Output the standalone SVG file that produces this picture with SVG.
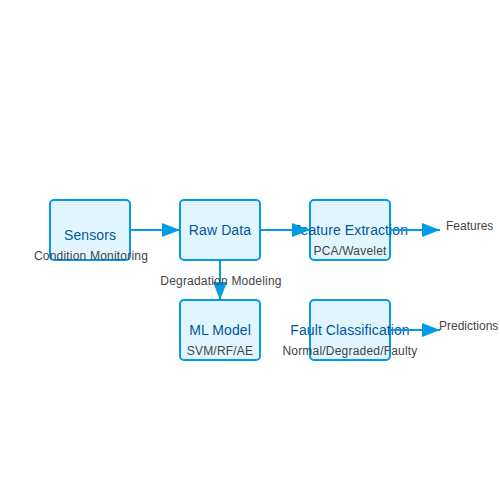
<svg xmlns="http://www.w3.org/2000/svg" width="500" height="500" viewBox="0 0 500 500">
<style>
.box{fill:#E1F5FE;stroke:#039BE5;stroke-width:2}
.t{font-family:"Liberation Sans",Arial,sans-serif;font-size:14px;fill:#01579B;text-anchor:middle;letter-spacing:0.1px}
.s{font-family:"Liberation Sans",Arial,sans-serif;font-size:12px;fill:#444;text-anchor:middle;letter-spacing:0.2px}
.l{font-family:"Liberation Sans",Arial,sans-serif;font-size:12px;fill:#444}
.c{stroke:#039BE5;stroke-width:2;fill:none}
</style>
<defs>
<marker id="ah" markerWidth="9" markerHeight="7" refX="9" refY="3.5" orient="auto" markerUnits="strokeWidth">
<polygon points="0 0,9 3.5,0 7" fill="#039BE5"/>
</marker>
</defs>
<rect width="500" height="500" fill="#fff"/>
<g id="sensors"><rect class="box" x="50" y="200" width="80" height="60" rx="4"/><text class="t" x="90" y="240">Sensors</text></g>
<g id="rawdata"><rect class="box" x="180" y="200" width="80" height="60" rx="4"/><text class="t" x="220" y="235">Raw Data</text></g>
<g id="feature"><rect class="box" x="310" y="200" width="80" height="60" rx="4"/><text class="t" x="350" y="235">Feature Extraction</text><text class="s" x="350" y="255">PCA/Wavelet</text></g>
<g id="mlmodel"><rect class="box" x="180" y="300" width="80" height="60" rx="4"/><text class="t" x="220" y="335">ML Model</text><text class="s" x="220" y="355">SVM/RF/AE</text></g>
<g id="fault"><rect class="box" x="310" y="300" width="80" height="60" rx="4"/><text class="t" x="350" y="335">Fault Classification</text><text class="s" x="350" y="355">Normal/Degraded/Faulty</text></g>
<g id="connectors">
<line class="c" x1="130" y1="230" x2="180" y2="230" marker-end="url(#ah)"/>
<line class="c" x1="260" y1="230" x2="310" y2="230" marker-end="url(#ah)"/>
<line class="c" x1="390" y1="230" x2="440" y2="230" marker-end="url(#ah)"/>
<line class="c" x1="220" y1="260" x2="220" y2="300" marker-end="url(#ah)"/>
<line class="c" x1="390" y1="330" x2="440" y2="330" marker-end="url(#ah)"/>
<text class="s" x="91" y="260">Condition Monitoring</text>
<text class="s" x="221" y="285">Degradation Modeling</text>
<text class="l" x="446" y="230">Features</text>
<text class="l" x="439" y="330">Predictions</text>
</g>
</svg>
